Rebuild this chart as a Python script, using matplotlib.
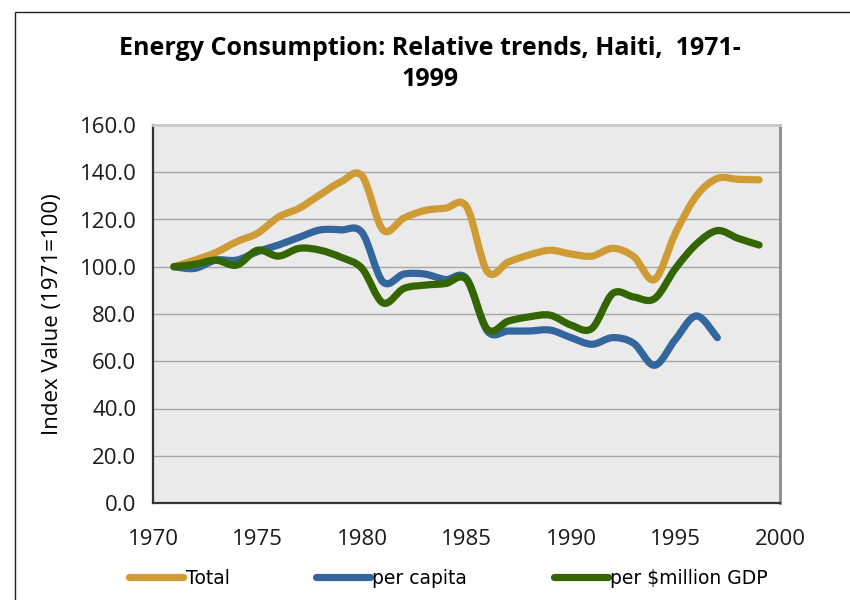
import matplotlib
matplotlib.use('Agg')
import matplotlib.pyplot as plt
from matplotlib.path import Path
from matplotlib.patches import PathPatch, Rectangle
from matplotlib.lines import Line2D
import numpy as np

# Values (index, 1971 = 100)
years = list(range(1971, 2000))
total = [100.0, 102.8, 106.0, 110.6, 114.2, 121.0, 124.8, 130.5, 136.0, 138.5,
         115.6, 120.6, 123.8, 124.8, 125.5, 97.9, 102.0, 105.0, 107.0, 105.4,
         104.5, 107.8, 104.3, 94.6, 114.3, 130.0, 137.4, 137.0, 136.8]
per_capita = [100.0, 99.3, 102.8, 102.8, 106.4, 109.2, 112.5, 115.6, 115.6, 114.5,
              93.6, 96.9, 96.9, 94.6, 95.0, 72.8, 72.8, 72.8, 73.2, 70.0,
              67.2, 70.0, 67.6, 58.3, 69.3, 79.2, 70.0]
per_gdp = [100.0, 101.0, 102.8, 100.7, 107.0, 104.5, 107.8, 107.0, 104.0, 99.3,
           84.7, 90.8, 92.2, 92.9, 94.6, 73.5, 77.0, 78.8, 79.5, 75.3,
           73.9, 88.7, 87.2, 86.5, 99.3, 109.6, 115.3, 112.0, 109.2]

series_names = ['Total', 'per capita', 'per $million GDP']
colors = ['#CF9B35', '#33669C', '#336600']


def smooth_path(xs, ys):
    # Excel-style smoothed line: cubic Bezier through every data point
    pts = np.column_stack([xs, ys]).astype(float)
    n = len(pts)
    verts = [pts[0]]
    codes = [Path.MOVETO]
    for i in range(n - 1):
        p0 = pts[i - 1] if i > 0 else pts[i]
        p1 = pts[i]
        p2 = pts[i + 1]
        p3 = pts[i + 2] if i + 2 < n else pts[i + 1]
        verts += [p1 + (p2 - p0) / 6.0, p2 - (p3 - p1) / 6.0, p2]
        codes += [Path.CURVE4] * 3
    return Path(verts, codes)


fig = plt.figure(figsize=(8.5, 6), dpi=100)
ax = fig.add_axes([153 / 850, 1 - 503 / 600, (780 - 153) / 850, (503 - 125) / 600])
ax.set_facecolor('#EAEAEA')

for vals, c in zip([total, per_capita, per_gdp], colors):
    patch = PathPatch(smooth_path(years[:len(vals)], vals), fill=False,
                      edgecolor=c, lw=5.2, capstyle='round', joinstyle='round', zorder=3)
    ax.add_patch(patch)

ax.set_xlim(1970, 2000)
ax.set_ylim(0, 160)
ax.set_xticks(range(1970, 2001, 5))
ax.set_yticks(range(0, 161, 20))
ax.set_yticklabels([f'{v:.1f}' for v in range(0, 161, 20)])
ax.grid(axis='y', color='#A6A6A6', lw=1.0, zorder=1)
ax.tick_params(axis='both', length=0, labelsize=16, colors='#1a1a1a')
ax.tick_params(axis='x', pad=19)
ax.tick_params(axis='y', pad=12)
for lab in ax.get_xticklabels() + ax.get_yticklabels():
    lab.set_fontfamily('Open Sans')

ax.spines['left'].set_color('#333333')
ax.spines['bottom'].set_color('#333333')
ax.spines['left'].set_linewidth(1.6)
ax.spines['bottom'].set_linewidth(1.6)
ax.spines['right'].set_color('#8C8C8C')
ax.spines['right'].set_linewidth(2.0)
ax.spines['top'].set_color('#C8C8C8')
ax.spines['top'].set_linewidth(2.0)

ax.set_ylabel('Index Value (1971=100)', fontsize=16, family='Open Sans', labelpad=12)

fig.text(0.506, 1 - 64 / 600, 'Energy Consumption: Relative trends, Haiti,  1971-\n1999',
         ha='center', va='center', fontsize=18, fontweight='bold', family='Open Sans',
         linespacing=1.27)

handles = [Line2D([0], [0], color=c, lw=5.2, solid_capstyle='round') for c in colors]
fig.legend(handles, series_names, loc='center left', bbox_to_anchor=(129 / 850, 1 - 578 / 600),
           ncol=3, frameon=False, handlelength=2.9, handletextpad=0.12, columnspacing=4.6,
           prop={'family': ['Liberation Sans Narrow', 'DejaVu Sans'], 'size': 13.5},
           borderpad=0, borderaxespad=0)

fig.patches.append(Rectangle((15 / 850, -0.05), 1.1, 1 - 12 / 600 + 0.05,
                             transform=fig.transFigure, fill=False,
                             edgecolor='#222222', lw=1.0))

fig.savefig('out.png', dpi=100)
